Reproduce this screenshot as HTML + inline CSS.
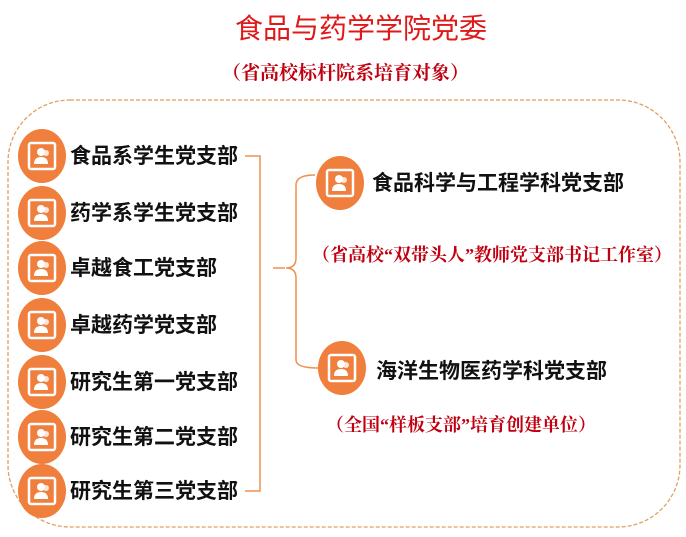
<!DOCTYPE html>
<html><head><meta charset="utf-8"><style>
body{margin:0;width:686px;height:537px;background:#fff;overflow:hidden;position:relative;font-family:"Liberation Sans","Noto Sans CJK SC",sans-serif}
.t{position:absolute;white-space:nowrap;line-height:1}
.b{font-weight:bold;font-size:21px;color:#111}
.r{font-family:"Liberation Serif","Noto Serif CJK SC",serif;color:#c00010;font-weight:bold;font-size:18px}
</style></head><body>
<svg width="686" height="537" style="position:absolute;left:0;top:0">
<defs>
<g id="ic"><ellipse cx="0" cy="0" rx="24" ry="27" fill="#f07e3c"/><rect x="-13" y="-13" width="26" height="26" rx="2" fill="none" stroke="#fff" stroke-width="2.5"/><circle cx="-1" cy="-4" r="4" fill="#fff"/><path d="M-8 8 Q-8 1 -1 1 Q6 1 6 8Z" fill="#fff"/><circle cx="4" cy="-3" r="3" fill="#fff" opacity=".8"/></g>
</defs>
<rect x="8" y="100" width="672" height="427" rx="62" fill="none" stroke="#e0a060" stroke-width="1.3" stroke-dasharray="4,2"/>
<g fill="none" stroke="#f09050" stroke-width="1.5">
<path d="M245 156 H260 V491 H245"/>
<path d="M273 268 H285"/>
<path d="M315 175 Q296 175 296 185 V258 Q296 268 286 268 Q296 268 296 278 V360 Q296 368 318 368"/>
</g>
<use href="#ic" x="42" y="156"/>
<use href="#ic" x="42" y="213"/>
<use href="#ic" x="42" y="268"/>
<use href="#ic" x="42" y="325"/>
<use href="#ic" x="42" y="382"/>
<use href="#ic" x="42" y="437"/>
<use href="#ic" x="42" y="491"/>
<use href="#ic" x="340" y="183"/>
<use href="#ic" x="342" y="368"/>
</svg>
<div class="t" style="left:235px;top:15px;color:#e01818;font-size:28px;letter-spacing:0">食品与药学学院党委</div>
<div class="t r" style="left:222px;top:64px;font-size:19px">（省高校标杆院系培育对象）</div>
<div class="t b" style="left:70px;top:146px">食品系学生党支部</div>
<div class="t b" style="left:70px;top:203px">药学系学生党支部</div>
<div class="t b" style="left:70px;top:258px">卓越食工党支部</div>
<div class="t b" style="left:70px;top:315px">卓越药学党支部</div>
<div class="t b" style="left:70px;top:372px">研究生第一党支部</div>
<div class="t b" style="left:70px;top:427px">研究生第二党支部</div>
<div class="t b" style="left:70px;top:481px">研究生第三党支部</div>
<div class="t b" style="left:372px;top:173px">食品科学与工程学科党支部</div>
<div class="t r" style="left:312px;top:246px">（省高校“双带头人”教师党支部书记工作室）</div>
<div class="t b" style="left:376px;top:361px">海洋生物医药学科党支部</div>
<div class="t r" style="left:326px;top:416px">（全国“样板支部”培育创建单位）</div>
</body></html>
